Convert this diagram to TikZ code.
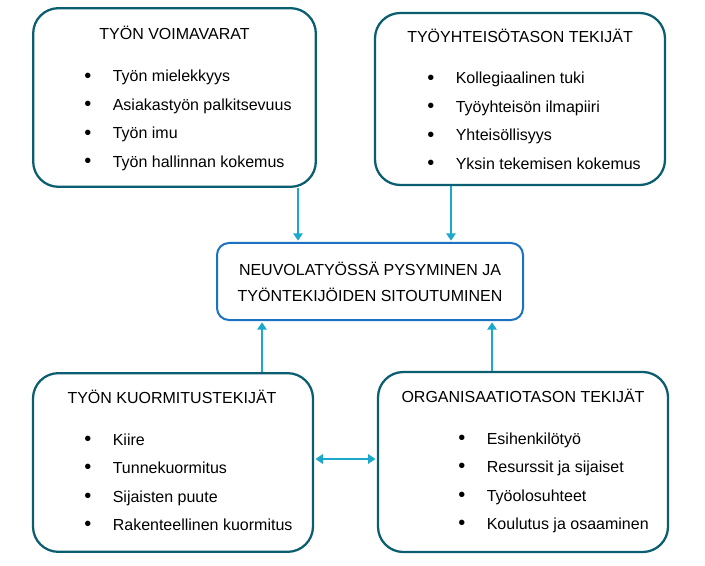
\documentclass[tikz,border=0pt]{standalone}
\usepackage{fontspec}
\setmainfont{Liberation Sans}
\usepackage{xcolor}
\usepackage{tikz}
\usetikzlibrary{calc,arrows.meta}
\definecolor{reuna}{HTML}{0B5E70}
\definecolor{nuolivari}{HTML}{1BA8CC}
\definecolor{keskireuna}{HTML}{1B72C0}
\newcommand{\luetelma}{\makebox[21.4pt][l]{\raisebox{-0.3pt}{\fontsize{15}{15}\selectfont\textbullet}}}

\begin{document}
\begin{tikzpicture}[x=0.75pt,y=-0.75pt,
  laatikko/.style={draw=reuna,line width=1.7pt,rounded corners=19pt,inner sep=0pt},
  otsikko/.style={anchor=base,inner sep=0pt,font=\fontsize{12}{14}\selectfont},
  kohta/.style={anchor=base west,inner sep=0pt,font=\fontsize{12}{14}\selectfont},
  nuoli/.style={draw=nuolivari,line width=2.1pt,shorten >=1pt,-{Triangle[length=5.5pt,width=7pt]}}]
\useasboundingbox (0,0) rectangle (705,566);
\node[laatikko,minimum width=212pt,minimum height=134pt] (voima) at (174.5,97.5) {};
\node[laatikko,minimum width=217.5pt,minimum height=129pt] (yhteiso) at (520,99) {};
\node[laatikko,minimum width=210pt,minimum height=134pt] (kuormitus) at (173,462.5) {};
\node[laatikko,minimum width=217.5pt,minimum height=135pt] (organisaatio) at (523,462) {};
\node[draw=keskireuna,line width=1.5pt,rounded corners=9pt,minimum width=229.5pt,
  minimum height=57.75pt,align=center,font=\fontsize{12}{19.5}\selectfont] (keski) at (370,281.5)
  {NEUVOLATYÖSSÄ PYSYMINEN JA\\TYÖNTEKIJÖIDEN SITOUTUMINEN};
\node[otsikko] (voima-o) at (174.5,39.3) {TYÖN VOIMAVARAT};
\node[otsikko] (yhteiso-o) at (520,42.3) {TYÖYHTEISÖTASON TEKIJÄT};
\node[otsikko] (kuormitus-o) at (172,403.3) {TYÖN KUORMITUSTEKIJÄT};
\node[otsikko] (organisaatio-o) at (523,402.3) {ORGANISAATIOTASON TEKIJÄT};
\foreach \t [count=\i] in {Työn mielekkyys,Asiakastyön palkitsevuus,Työn imu,Työn hallinnan kokemus} {
\node[kohta] (voima-\i) at (84,81.7+28.5*\i-28.5) {\luetelma\t};
}
\foreach \t [count=\i] in {Kollegiaalinen tuki,Työyhteisön ilmapiiri,Yhteisöllisyys,Yksin tekemisen kokemus} {
\node[kohta] (yhteiso-\i) at (427,84+28.5*\i-28.5) {\luetelma\t};
}
\foreach \t [count=\i] in {Kiire,Tunnekuormitus,Sijaisten puute,Rakenteellinen kuormitus} {
\node[kohta] (kuormitus-\i) at (84,445+28.5*\i-28.5) {\luetelma\t};
}
\foreach \t [count=\i] in {Esihenkilötyö,Resurssit ja sijaiset,Työolosuhteet,Koulutus ja osaaminen} {
\node[kohta] (organisaatio-\i) at (458,444+28.5*\i-28.5) {\luetelma\t};
}
\coordinate (a1) at (298,0);
\coordinate (a2) at (451,0);
\coordinate (a3) at (262,0);
\coordinate (a4) at (492,0);
\coordinate (a5) at (0,459);
\draw[nuoli] (voima.south -| a1) -- (keski.north -| a1);
\draw[nuoli] (yhteiso.south -| a2) -- (keski.north -| a2);
\draw[nuoli] (kuormitus.north -| a3) -- (keski.south -| a3);
\draw[nuoli] (organisaatio.north -| a4) -- (keski.south -| a4);
\draw[nuoli,shorten <=1pt,{Triangle[length=5.5pt,width=7pt]}-{Triangle[length=5.5pt,width=7pt]}]
  (kuormitus.east |- a5) -- (organisaatio.west |- a5);
\end{tikzpicture}
\end{document}
